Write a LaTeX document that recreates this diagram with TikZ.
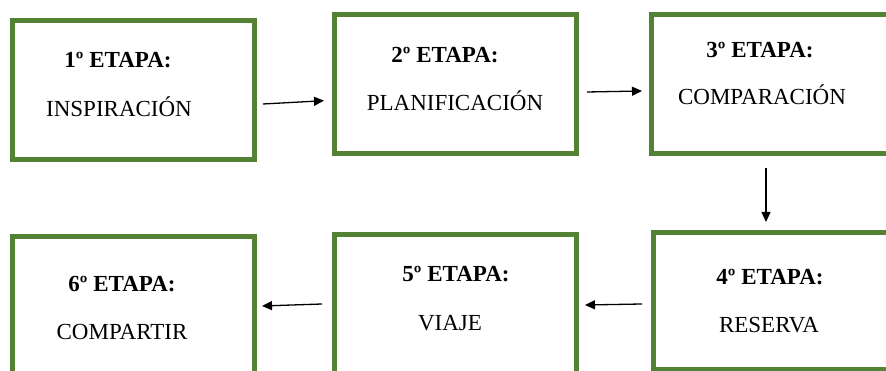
\documentclass[tikz,border=0pt]{standalone}
\usepackage{fontspec}
\setmainfont{Liberation Serif}
\usetikzlibrary{arrows.meta,positioning}
\definecolor{stagegreen}{RGB}{84,130,53}

\begin{document}
\begin{tikzpicture}[
    x=1pt, y=1pt,
    stagebox/.style={rectangle, draw=stagegreen, line width=5pt, minimum width=242pt, minimum height=139pt},
    stagetitle/.style={anchor=base, font=\fontsize{23}{27}\selectfont\bfseries},
    stagename/.style={anchor=base, font=\fontsize{23}{27}\selectfont},
    arrow/.style={-{Triangle[length=10pt,width=9pt]}, line width=1.3pt}
]
    \useasboundingbox (0,0) rectangle (886,371);
    \clip (0,0) rectangle (886,371);

    % Top row
    \node[stagebox] (b1) at (133.5,281) {};
    \node[stagebox] (b2) at (455.5,287) {};
    \node[stagebox] (b3) at (772.5,287) {};

    % Bottom row
    \node[stagebox, minimum height=137pt] (b4) at (774.5,69.5) {};
    \node[stagebox] (b5) at (455.5,67) {};
    \node[stagebox] (b6) at (133.5,65) {};

    % Texts
    \node[stagetitle] (t1) at (118,303) {1º ETAPA:};
    \node[stagename] (n1) at (119,254) {INSPIRACIÓN};
    \node[stagetitle] (t2) at (445,308) {2º ETAPA:};
    \node[stagename] (n2) at (455,260) {PLANIFICACIÓN};
    \node[stagetitle] (t3) at (760,313) {3º ETAPA:};
    \node[stagename] (n3) at (762,266) {COMPARACIÓN};
    \node[stagetitle] (t4) at (770,86) {4º ETAPA:};
    \node[stagename] (n4) at (769,38) {RESERVA};
    \node[stagetitle] (t5) at (456,89) {5º ETAPA:};
    \node[stagename] (n5) at (450,40) {VIAJE};
    \node[stagetitle] (t6) at (122,79) {6º ETAPA:};
    \node[stagename] (n6) at (122,31) {COMPARTIR};

    % Arrows
    \draw[arrow] ([xshift=6pt,yshift=-14pt]b1.east) -- ([xshift=-8pt,yshift=-16.7pt]b2.west);
    \draw[arrow] ([xshift=8pt,yshift=-8pt]b2.east) -- ([xshift=-7pt,yshift=-7pt]b3.west);
    \draw[arrow] ([xshift=-6.5pt,yshift=-12pt]b3.south) -- ([xshift=-8.5pt,yshift=8.5pt]b4.north);
    \draw[arrow] ([xshift=-9pt,yshift=-2.5pt]b4.west) -- ([xshift=6pt,yshift=-1pt]b5.east);
    \draw[arrow] ([xshift=-10pt]b5.west) -- ([xshift=5pt]b6.east);
\end{tikzpicture}
\end{document}
